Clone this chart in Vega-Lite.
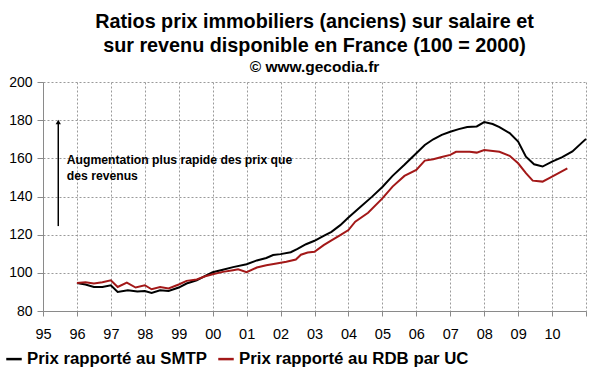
{
  "$schema": "https://vega.github.io/schema/vega-lite/v6.json",
  "width": 543,
  "height": 229,
  "autosize": {"type": "none"},
  "padding": {"left": 43, "top": 82, "right": 14, "bottom": 61},
  "background": "white",
  "config": {
    "font": "Liberation Sans",
    "view": {"stroke": null},
    "axis": {"labelOverlap": false, "labelBound": false}
  },
  "title": {
    "text": ["Ratios prix immobiliers (anciens) sur salaire et", "sur revenu disponible en France (100 = 2000)"],
    "subtitle": "© www.gecodia.fr",
    "font": "Liberation Sans",
    "fontSize": 19.8,
    "fontWeight": "bold",
    "color": "#000000",
    "lineHeight": 24,
    "subtitleFont": "Liberation Sans",
    "subtitleFontSize": 15.5,
    "subtitleFontWeight": "bold",
    "subtitleColor": "#000000",
    "subtitlePadding": 4,
    "anchor": "middle",
    "offset": 0
  },
  "datasets": {
    "series": [
      {"serie": "Prix rapporté au SMTP", "t": 1996.0, "v": 94.7},
      {"serie": "Prix rapporté au SMTP", "t": 1996.25, "v": 93.9},
      {"serie": "Prix rapporté au SMTP", "t": 1996.5, "v": 92.6},
      {"serie": "Prix rapporté au SMTP", "t": 1996.75, "v": 92.6},
      {"serie": "Prix rapporté au SMTP", "t": 1997.0, "v": 93.5},
      {"serie": "Prix rapporté au SMTP", "t": 1997.2, "v": 90.0},
      {"serie": "Prix rapporté au SMTP", "t": 1997.5, "v": 90.9},
      {"serie": "Prix rapporté au SMTP", "t": 1997.78, "v": 90.2},
      {"serie": "Prix rapporté au SMTP", "t": 1998.0, "v": 90.5},
      {"serie": "Prix rapporté au SMTP", "t": 1998.2, "v": 89.5},
      {"serie": "Prix rapporté au SMTP", "t": 1998.45, "v": 90.9},
      {"serie": "Prix rapporté au SMTP", "t": 1998.7, "v": 90.5},
      {"serie": "Prix rapporté au SMTP", "t": 1999.0, "v": 92.3},
      {"serie": "Prix rapporté au SMTP", "t": 1999.23, "v": 94.4},
      {"serie": "Prix rapporté au SMTP", "t": 1999.53, "v": 96.1},
      {"serie": "Prix rapporté au SMTP", "t": 1999.78, "v": 98.4},
      {"serie": "Prix rapporté au SMTP", "t": 2000.0, "v": 100.3},
      {"serie": "Prix rapporté au SMTP", "t": 2000.3, "v": 101.6},
      {"serie": "Prix rapporté au SMTP", "t": 2000.6, "v": 103.0},
      {"serie": "Prix rapporté au SMTP", "t": 2001.0, "v": 104.5},
      {"serie": "Prix rapporté au SMTP", "t": 2001.3, "v": 106.5},
      {"serie": "Prix rapporté au SMTP", "t": 2001.58, "v": 107.8},
      {"serie": "Prix rapporté au SMTP", "t": 2001.78, "v": 109.3},
      {"serie": "Prix rapporté au SMTP", "t": 2002.0, "v": 109.8},
      {"serie": "Prix rapporté au SMTP", "t": 2002.3, "v": 110.8},
      {"serie": "Prix rapporté au SMTP", "t": 2002.5, "v": 112.5},
      {"serie": "Prix rapporté au SMTP", "t": 2002.75, "v": 115.0},
      {"serie": "Prix rapporté au SMTP", "t": 2003.0, "v": 116.8},
      {"serie": "Prix rapporté au SMTP", "t": 2003.27, "v": 119.4},
      {"serie": "Prix rapporté au SMTP", "t": 2003.5, "v": 121.5},
      {"serie": "Prix rapporté au SMTP", "t": 2003.76, "v": 125.0},
      {"serie": "Prix rapporté au SMTP", "t": 2004.0, "v": 129.0},
      {"serie": "Prix rapporté au SMTP", "t": 2004.35, "v": 134.5},
      {"serie": "Prix rapporté au SMTP", "t": 2004.69, "v": 139.8},
      {"serie": "Prix rapporté au SMTP", "t": 2005.0, "v": 145.0},
      {"serie": "Prix rapporté au SMTP", "t": 2005.3, "v": 150.8},
      {"serie": "Prix rapporté au SMTP", "t": 2005.65, "v": 156.6},
      {"serie": "Prix rapporté au SMTP", "t": 2006.0, "v": 162.7},
      {"serie": "Prix rapporté au SMTP", "t": 2006.25, "v": 167.0},
      {"serie": "Prix rapporté au SMTP", "t": 2006.5, "v": 170.0},
      {"serie": "Prix rapporté au SMTP", "t": 2006.75, "v": 172.3},
      {"serie": "Prix rapporté au SMTP", "t": 2007.0, "v": 173.9},
      {"serie": "Prix rapporté au SMTP", "t": 2007.25, "v": 175.3},
      {"serie": "Prix rapporté au SMTP", "t": 2007.5, "v": 176.4},
      {"serie": "Prix rapporté au SMTP", "t": 2007.78, "v": 176.7},
      {"serie": "Prix rapporté au SMTP", "t": 2008.0, "v": 179.0},
      {"serie": "Prix rapporté au SMTP", "t": 2008.25, "v": 178.0},
      {"serie": "Prix rapporté au SMTP", "t": 2008.45, "v": 176.4},
      {"serie": "Prix rapporté au SMTP", "t": 2008.75, "v": 173.2},
      {"serie": "Prix rapporté au SMTP", "t": 2009.0, "v": 168.8},
      {"serie": "Prix rapporté au SMTP", "t": 2009.23, "v": 160.9},
      {"serie": "Prix rapporté au SMTP", "t": 2009.47, "v": 156.9},
      {"serie": "Prix rapporté au SMTP", "t": 2009.72, "v": 155.7},
      {"serie": "Prix rapporté au SMTP", "t": 2010.0, "v": 158.3},
      {"serie": "Prix rapporté au SMTP", "t": 2010.3, "v": 160.6},
      {"serie": "Prix rapporté au SMTP", "t": 2010.6, "v": 163.6},
      {"serie": "Prix rapporté au SMTP", "t": 2011.0, "v": 170.2},
      {"serie": "Prix rapporté au RDB par UC", "t": 1996.0, "v": 94.7},
      {"serie": "Prix rapporté au RDB par UC", "t": 1996.25, "v": 95.1},
      {"serie": "Prix rapporté au RDB par UC", "t": 1996.5, "v": 94.4},
      {"serie": "Prix rapporté au RDB par UC", "t": 1996.75, "v": 95.1},
      {"serie": "Prix rapporté au RDB par UC", "t": 1997.0, "v": 96.1},
      {"serie": "Prix rapporté au RDB par UC", "t": 1997.2, "v": 92.6},
      {"serie": "Prix rapporté au RDB par UC", "t": 1997.47, "v": 94.9},
      {"serie": "Prix rapporté au RDB par UC", "t": 1997.73, "v": 92.3},
      {"serie": "Prix rapporté au RDB par UC", "t": 1998.0, "v": 93.5},
      {"serie": "Prix rapporté au RDB par UC", "t": 1998.2, "v": 91.4},
      {"serie": "Prix rapporté au RDB par UC", "t": 1998.45, "v": 92.6},
      {"serie": "Prix rapporté au RDB par UC", "t": 1998.7, "v": 91.8},
      {"serie": "Prix rapporté au RDB par UC", "t": 1999.0, "v": 93.9},
      {"serie": "Prix rapporté au RDB par UC", "t": 1999.23, "v": 95.8},
      {"serie": "Prix rapporté au RDB par UC", "t": 1999.53, "v": 96.5},
      {"serie": "Prix rapporté au RDB par UC", "t": 1999.78, "v": 98.2},
      {"serie": "Prix rapporté au RDB par UC", "t": 2000.0, "v": 99.3},
      {"serie": "Prix rapporté au RDB par UC", "t": 2000.3, "v": 100.5},
      {"serie": "Prix rapporté au RDB par UC", "t": 2000.6, "v": 101.4},
      {"serie": "Prix rapporté au RDB par UC", "t": 2000.75, "v": 101.9},
      {"serie": "Prix rapporté au RDB par UC", "t": 2001.0, "v": 100.3},
      {"serie": "Prix rapporté au RDB par UC", "t": 2001.3, "v": 102.8},
      {"serie": "Prix rapporté au RDB par UC", "t": 2001.58, "v": 104.0},
      {"serie": "Prix rapporté au RDB par UC", "t": 2001.88, "v": 104.9},
      {"serie": "Prix rapporté au RDB par UC", "t": 2002.17, "v": 105.8},
      {"serie": "Prix rapporté au RDB par UC", "t": 2002.45, "v": 107.0},
      {"serie": "Prix rapporté au RDB par UC", "t": 2002.6, "v": 109.5},
      {"serie": "Prix rapporté au RDB par UC", "t": 2002.8, "v": 110.6},
      {"serie": "Prix rapporté au RDB par UC", "t": 2003.0, "v": 111.0},
      {"serie": "Prix rapporté au RDB par UC", "t": 2003.27, "v": 114.5},
      {"serie": "Prix rapporté au RDB par UC", "t": 2003.5, "v": 117.0},
      {"serie": "Prix rapporté au RDB par UC", "t": 2003.76, "v": 119.8},
      {"serie": "Prix rapporté au RDB par UC", "t": 2004.0, "v": 122.4},
      {"serie": "Prix rapporté au RDB par UC", "t": 2004.2, "v": 126.8},
      {"serie": "Prix rapporté au RDB par UC", "t": 2004.58, "v": 131.5},
      {"serie": "Prix rapporté au RDB par UC", "t": 2005.0, "v": 139.0},
      {"serie": "Prix rapporté au RDB par UC", "t": 2005.3, "v": 145.2},
      {"serie": "Prix rapporté au RDB par UC", "t": 2005.65, "v": 150.8},
      {"serie": "Prix rapporté au RDB par UC", "t": 2006.0, "v": 153.9},
      {"serie": "Prix rapporté au RDB par UC", "t": 2006.25, "v": 158.8},
      {"serie": "Prix rapporté au RDB par UC", "t": 2006.5, "v": 159.5},
      {"serie": "Prix rapporté au RDB par UC", "t": 2006.75, "v": 160.7},
      {"serie": "Prix rapporté au RDB par UC", "t": 2007.0, "v": 161.8},
      {"serie": "Prix rapporté au RDB par UC", "t": 2007.17, "v": 163.4},
      {"serie": "Prix rapporté au RDB par UC", "t": 2007.57, "v": 163.4},
      {"serie": "Prix rapporté au RDB par UC", "t": 2007.78, "v": 163.0},
      {"serie": "Prix rapporté au RDB par UC", "t": 2008.0, "v": 164.4},
      {"serie": "Prix rapporté au RDB par UC", "t": 2008.45, "v": 163.4},
      {"serie": "Prix rapporté au RDB par UC", "t": 2008.75, "v": 161.3},
      {"serie": "Prix rapporté au RDB par UC", "t": 2009.0, "v": 157.4},
      {"serie": "Prix rapporté au RDB par UC", "t": 2009.23, "v": 152.2},
      {"serie": "Prix rapporté au RDB par UC", "t": 2009.43, "v": 148.3},
      {"serie": "Prix rapporté au RDB par UC", "t": 2009.72, "v": 147.8},
      {"serie": "Prix rapporté au RDB par UC", "t": 2010.0, "v": 150.4},
      {"serie": "Prix rapporté au RDB par UC", "t": 2010.45, "v": 154.8}
    ],
    "arrow": [{"t": 1995.45, "v": 124.5, "v2": 179.0}],
    "arrowHead": [{"t": 1995.45, "v": 179.0}],
    "notes": [
      {"t": 1995.7, "v": 159.1, "label": "Augmentation plus rapide des prix que"},
      {"t": 1995.7, "v": 150.7, "label": "des revenus"}
    ]
  },
  "encoding": {
    "x": {
      "field": "t", "type": "quantitative",
      "scale": {"domain": [1995, 2011], "nice": false, "zero": false},
      "axis": {
        "title": null,
        "values": [1995, 1996, 1997, 1998, 1999, 2000, 2001, 2002, 2003, 2004, 2005, 2006, 2007, 2008, 2009, 2010, 2011],
        "labelExpr": "datum.value > 2010 ? '' : substring(toString(datum.value), 2)",
        "labelOverlap": false,
        "grid": true,
        "gridColor": "#9a9a9a",
        "gridDash": [2, 2],
        "gridWidth": 1,
        "domainColor": "#8a8a8a",
        "tickColor": "#8a8a8a",
        "tickSize": 5,
        "labelFont": "Liberation Sans",
        "labelFontSize": 14.5,
        "labelColor": "#000000",
        "labelPadding": 11,
        "labelFlush": false
      }
    },
    "y": {
      "field": "v", "type": "quantitative",
      "scale": {"domain": [80, 200], "nice": false, "zero": false},
      "axis": {
        "title": null,
        "values": [80, 100, 120, 140, 160, 180, 200],
        "labelOverlap": false,
        "grid": true,
        "gridColor": "#9a9a9a",
        "gridDash": [2, 2],
        "gridWidth": 1,
        "domainColor": "#8a8a8a",
        "tickColor": "#8a8a8a",
        "tickSize": 6,
        "labelFont": "Liberation Sans",
        "labelFontSize": 14,
        "labelColor": "#000000",
        "labelPadding": 5
      }
    }
  },
  "layer": [
    {
      "data": {"name": "series"},
      "mark": {"type": "line", "strokeWidth": 2, "interpolate": "linear"},
      "encoding": {
        "color": {
          "field": "serie", "type": "nominal",
          "scale": {"domain": ["Prix rapporté au SMTP", "Prix rapporté au RDB par UC"], "range": ["#000000", "#a31818"]},
          "legend": {
            "title": null,
            "orient": "none",
            "direction": "horizontal",
            "legendX": -38,
            "legendY": 268,
            "symbolType": "stroke",
            "symbolSize": 240,
            "symbolStrokeWidth": 2.5,
            "labelFont": "Liberation Sans",
            "labelFontSize": 16.8,
            "labelFontWeight": "bold",
            "labelColor": "#000000",
            "labelOffset": 4,
            "labelLimit": 400,
            "columnPadding": 6
          }
        }
      }
    },
    {
      "data": {"name": "arrow"},
      "mark": {"type": "rule", "color": "#000000", "strokeWidth": 1.5},
      "encoding": {
        "y2": {"field": "v2"}
      }
    },
    {
      "data": {"name": "arrowHead"},
      "mark": {"type": "point", "shape": "triangle-up", "filled": true, "color": "#000000", "size": 28, "opacity": 1},
      "encoding": {}
    },
    {
      "data": {"name": "notes"},
      "mark": {"type": "text", "align": "left", "baseline": "middle", "font": "Liberation Sans", "fontSize": 12.2, "fontWeight": "bold", "color": "#000000"},
      "encoding": {
        "text": {"field": "label"}
      }
    }
  ]
}
